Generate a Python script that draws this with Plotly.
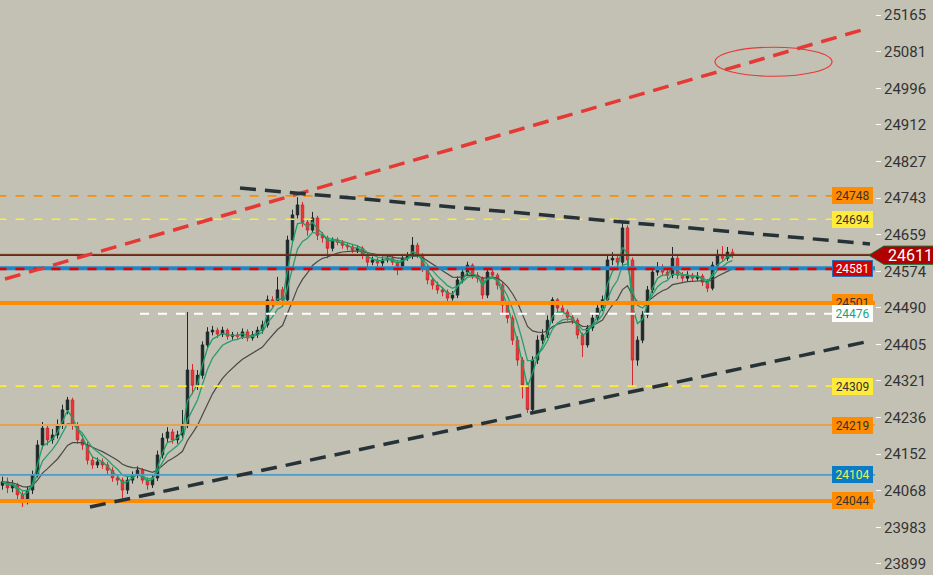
import pandas as pd
import plotly.graph_objects as go

# candle data (one bar per step)
open_ = [24080, 24088, 24074, 24081, 24058, 24046, 24069, 24104, 24173, 24212,
         24185, 24196, 24219, 24254, 24277, 24219, 24185, 24173, 24138, 24127,
         24134, 24127, 24115, 24097, 24092, 24069, 24092, 24104, 24115, 24092,
         24081, 24097, 24150, 24189, 24203, 24185, 24196, 24219, 24346, 24311,
         24334, 24404, 24434, 24438, 24429, 24438, 24424, 24427, 24424, 24434,
         24420, 24427, 24438, 24450, 24508, 24503, 24531, 24508, 24646, 24704,
         24727, 24687, 24669, 24697, 24657, 24651, 24627, 24646, 24641, 24634,
         24630, 24623, 24627, 24611, 24595, 24600, 24593, 24600, 24604, 24595,
         24586, 24604, 24609, 24634, 24611, 24581, 24554, 24542, 24531, 24526,
         24512, 24519, 24554, 24572, 24588, 24565, 24558, 24519, 24572, 24565,
         24542, 24496, 24466, 24415, 24369, 24311, 24255, 24369, 24415, 24427,
         24461, 24508, 24489, 24480, 24468, 24461, 24427, 24404, 24443, 24466,
         24489, 24508, 24600, 24604, 24595, 24674, 24600, 24369, 24415, 24473,
         24531, 24572, 24581, 24572, 24565, 24604, 24565, 24558, 24565, 24558,
         24563, 24549, 24535, 24588, 24611, 24604, 24618]
high = [24100, 24098, 24092, 24086, 24066, 24078, 24114, 24184, 24226, 24220,
        24210, 24232, 24266, 24284, 24282, 24226, 24196, 24180, 24146, 24144,
        24142, 24134, 24122, 24106, 24098, 24100, 24112, 24124, 24120, 24098,
        24106, 24160, 24200, 24214, 24210, 24206, 24254, 24480, 24360, 24346,
        24412, 24445, 24448, 24444, 24446, 24442, 24434, 24434, 24442, 24440,
        24436, 24446, 24460, 24518, 24516, 24561, 24538, 24656, 24716, 24745,
        24734, 24694, 24711, 24702, 24664, 24656, 24652, 24652, 24646, 24640,
        24636, 24634, 24632, 24616, 24608, 24606, 24608, 24612, 24610, 24600,
        24612, 24618, 24653, 24640, 24616, 24588, 24560, 24550, 24538, 24532,
        24528, 24562, 24580, 24596, 24592, 24572, 24562, 24580, 24584, 24570,
        24548, 24502, 24472, 24424, 24376, 24318, 24378, 24426, 24440, 24472,
        24514, 24512, 24496, 24486, 24474, 24466, 24432, 24450, 24474, 24496,
        24518, 24612, 24618, 24612, 24688, 24680, 24606, 24424, 24482, 24540,
        24580, 24595, 24590, 24580, 24630, 24610, 24572, 24574, 24570, 24572,
        24568, 24556, 24596, 24624, 24632, 24630, 24626]
low = [24070, 24062, 24064, 24044, 24030, 24036, 24060, 24098, 24165, 24172,
       24176, 24188, 24210, 24244, 24208, 24176, 24162, 24128, 24118, 24120,
       24118, 24106, 24088, 24080, 24050, 24060, 24084, 24096, 24084, 24070,
       24074, 24090, 24142, 24180, 24176, 24176, 24188, 24212, 24290, 24300,
       24326, 24396, 24426, 24420, 24422, 24416, 24416, 24416, 24418, 24412,
       24414, 24420, 24430, 24444, 24492, 24496, 24492, 24500, 24638, 24696,
       24676, 24656, 24662, 24646, 24640, 24604, 24620, 24634, 24626, 24622,
       24616, 24616, 24602, 24584, 24588, 24584, 24586, 24594, 24588, 24565,
       24580, 24598, 24602, 24604, 24572, 24544, 24532, 24522, 24516, 24504,
       24506, 24512, 24546, 24564, 24556, 24548, 24510, 24512, 24556, 24532,
       24478, 24454, 24404, 24356, 24280, 24247, 24250, 24360, 24406, 24420,
       24454, 24480, 24472, 24460, 24452, 24418, 24376, 24398, 24436, 24458,
       24482, 24500, 24588, 24586, 24588, 24590, 24307, 24356, 24408, 24466,
       24524, 24564, 24564, 24556, 24558, 24556, 24550, 24550, 24550, 24552,
       24540, 24526, 24530, 24580, 24596, 24598, 24604]
close = [24088, 24074, 24081, 24058, 24046, 24069, 24104, 24173, 24212, 24185,
         24196, 24219, 24254, 24277, 24219, 24185, 24173, 24138, 24127, 24134,
         24127, 24115, 24097, 24092, 24069, 24092, 24104, 24115, 24092, 24081,
         24097, 24150, 24189, 24203, 24185, 24196, 24219, 24346, 24311, 24334,
         24404, 24434, 24438, 24429, 24438, 24424, 24427, 24424, 24434, 24420,
         24427, 24438, 24450, 24508, 24503, 24531, 24508, 24646, 24704, 24727,
         24687, 24669, 24697, 24657, 24651, 24627, 24646, 24641, 24634, 24630,
         24623, 24627, 24611, 24595, 24600, 24593, 24600, 24604, 24595, 24586,
         24604, 24609, 24634, 24611, 24581, 24554, 24542, 24531, 24526, 24512,
         24519, 24554, 24572, 24588, 24565, 24558, 24519, 24572, 24565, 24542,
         24496, 24466, 24415, 24369, 24311, 24255, 24369, 24415, 24427, 24461,
         24508, 24489, 24480, 24468, 24461, 24427, 24404, 24443, 24466, 24489,
         24508, 24600, 24604, 24595, 24674, 24600, 24369, 24415, 24473, 24531,
         24572, 24581, 24572, 24565, 24604, 24565, 24558, 24565, 24558, 24563,
         24549, 24535, 24588, 24611, 24604, 24618, 24611]

bars = list(range(len(close)))

# price axis labels
y_ticks = [25165, 25081, 24996, 24912, 24827, 24743, 24659, 24574,
           24490, 24405, 24321, 24236, 24152, 24068, 23983, 23899]

# horizontal levels with their tags
level_prices = [24748, 24694, 24581, 24501, 24476, 24309, 24219, 24104, 24044]
current_price = 24611

# drawings: bar0, price0, bar1, price1
trend_red = [0.5, 24556, 173.1, 25135]
trend_upper = [47.5, 24766, 173.5, 24637]
trend_lower = [17.5, 24030, 173.5, 24413]
ellipse_box = [142.5, 25024, 165.9, 25091]

BG = '#c3c1b3'
ORANGE = '#ff8c00'
YELLOW = '#ffeb3b'

# line color, width, dash, first bar, tag bg, tag text, tag border
level_style = {
    24748: (ORANGE, 1.6, 'dash', -1, ORANGE, '#333333', ORANGE),
    24694: (YELLOW, 1.6, 'dash', -1, YELLOW, '#333333', YELLOW),
    24581: ('#1f86c8', 4, 'solid', -1, '#d50000', '#ffffff', '#2a6fb0'),
    24501: (ORANGE, 4, 'solid', -1, ORANGE, '#333333', ORANGE),
    24476: ('#ffffff', 2, 'dash', 27.5, '#ffffff', '#1aa37a', '#ffffff'),
    24309: (YELLOW, 1.6, 'dash', -1, YELLOW, '#333333', YELLOW),
    24219: ('#e9a050', 2, 'solid', -1, ORANGE, '#333333', ORANGE),
    24104: ('#4b9cc8', 1.6, 'solid', -1, '#0b7cc4', '#e6f06a', '#0b7cc4'),
    24044: (ORANGE, 4, 'solid', -1, ORANGE, '#333333', ORANGE),
}

s = pd.Series(close, dtype=float)
ema_fast = s.ewm(span=3, adjust=False).mean()
ema_mid = s.ewm(span=6, adjust=False).mean()
ema_slow = s.ewm(span=14, adjust=False).mean()

fig = go.Figure()

fig.add_trace(go.Candlestick(
    x=bars, open=open_, high=high, low=low, close=close,
    increasing=dict(line=dict(color='#1e272c', width=1), fillcolor='#1e272c'),
    decreasing=dict(line=dict(color='#d6282e', width=1), fillcolor='#e53935'),
    whiskerwidth=0, showlegend=False, hoverinfo='skip'))

fig.add_trace(go.Scatter(x=bars, y=ema_slow, mode='lines',
                         line=dict(color='#4a4a48', width=1.2), hoverinfo='skip'))
fig.add_trace(go.Scatter(x=bars, y=ema_mid, mode='lines',
                         line=dict(color='#2a9d72', width=1.3), hoverinfo='skip'))
fig.add_trace(go.Scatter(x=bars, y=ema_fast, mode='lines',
                         line=dict(color='#16a064', width=1.3), hoverinfo='skip'))

shapes = []
for p in level_prices:
    col, w, dash, start, _, _, _ = level_style[p]
    shapes.append(dict(type='line', xref='x', yref='y', x0=start, x1=180,
                       y0=p, y1=p, line=dict(color=col, width=w, dash=dash),
                       layer='above'))
# red dashed on top of the blue level
shapes.append(dict(type='line', xref='x', yref='y', x0=-1, x1=180,
                   y0=24579, y1=24579, line=dict(color='#e00000', width=2.5, dash='dash'),
                   layer='above'))
# current price line
shapes.append(dict(type='line', xref='x', yref='y', x0=-1, x1=180,
                   y0=current_price + 2, y1=current_price + 2,
                   line=dict(color='#1b6b3a', width=1), layer='above'))
shapes.append(dict(type='line', xref='x', yref='y', x0=-1, x1=180,
                   y0=current_price, y1=current_price,
                   line=dict(color='#c00000', width=1.6), layer='above'))

for tl, col, w in [(trend_red, '#e53935', 3.5), (trend_upper, '#263238', 3.5),
                   (trend_lower, '#263238', 3.5)]:
    shapes.append(dict(type='line', xref='x', yref='y', x0=tl[0], y0=tl[1],
                       x1=tl[2], y1=tl[3],
                       line=dict(color=col, width=w, dash='16px,9px'),
                       layer='above'))

shapes.append(dict(type='circle', xref='x', yref='y', x0=ellipse_box[0], y0=ellipse_box[1],
                   x1=ellipse_box[2], y1=ellipse_box[3],
                   line=dict(color='#e53935', width=1.2), layer='above'))

# current price tag with a pointer
cp = current_price
shapes.append(dict(type='path', xref='paper', yref='y',
                   path=f'M 0.993,{cp} L 1.01,{cp + 21} L 1.07,{cp + 21} '
                        f'L 1.07,{cp - 21} L 1.01,{cp - 21} Z',
                   fillcolor='#b00000', line=dict(color='#1b6b3a', width=1),
                   layer='above'))

annotations = []
for p in level_prices:
    _, _, _, _, bg, fg, bc = level_style[p]
    annotations.append(dict(x=1, xref='paper', y=p, yref='y', xanchor='right',
                            xshift=-2, text=str(p), showarrow=False,
                            font=dict(family='Roboto', size=12, color=fg),
                            bgcolor=bg, bordercolor=bc, borderwidth=1,
                            width=39, height=15, borderpad=0))
annotations.append(dict(x=1.04, xref='paper', y=cp, yref='y', xanchor='center',
                        text=str(cp), showarrow=False,
                        font=dict(family='Roboto', size=16, color='#ffffff')))

fig.update_layout(
    width=933, height=575,
    margin=dict(l=0, r=58, t=0, b=0),
    paper_bgcolor=BG, plot_bgcolor=BG,
    showlegend=False,
    shapes=shapes, annotations=annotations,
    xaxis=dict(visible=False, range=[-0.5, 174.5], rangeslider=dict(visible=False)),
    yaxis=dict(side='right', range=[23873, 25200], tickvals=y_ticks,
               ticktext=[str(v) for v in y_ticks], showgrid=False, zeroline=False,
               ticks='outside', ticklen=5, tickcolor='#ffffff', tickwidth=1,
               tickfont=dict(family='Roboto', size=15, color='#333333'),
               showline=False),
)

fig.write_html("out.html", config={'displayModeBar': False},
               post_script="document.body.style.margin='0';")
